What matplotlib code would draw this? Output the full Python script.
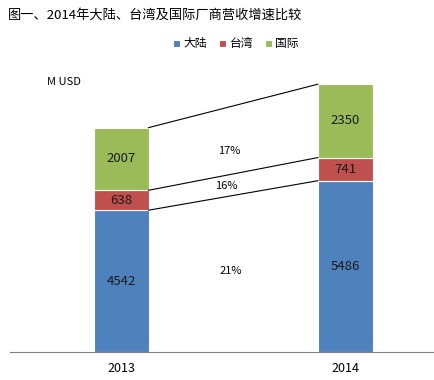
import matplotlib
matplotlib.use('Agg')
import matplotlib.pyplot as plt

plt.rcParams['font.family'] = ['Noto Sans CJK SC', 'DejaVu Sans']

years = ['2013', '2014']
series = ['大陆', '台湾', '国际']
mainland = [4542, 5486]
taiwan = [638, 741]
intl = [2007, 2350]
growth = ['21%', '16%', '17%']
colors = ['#4F81BD', '#C0504D', '#9BBB59']


def main():
    fig = plt.figure(figsize=(4.35, 3.80), dpi=100)
    ax = fig.add_axes([10 / 435, 28 / 380, 1 - 10 / 435, (352 - 71) / 380])
    x = [0, 1]
    w = 0.245
    bottoms = [0, 0]
    tops = []
    for vals, name, c in zip([mainland, taiwan, intl], series, colors):
        ax.bar(x, vals, w, bottom=bottoms, color=c, edgecolor='white', linewidth=0.8, label=name)
        for xi, v, b in zip(x, vals, bottoms):
            ax.text(xi, b + v / 2, str(v), ha='center', va='center', fontsize=9.5, color='#1a1a1a')
        bottoms = [b + v for b, v in zip(bottoms, vals)]
        tops.append(list(bottoms))

    # connector lines between stacked segment tops
    for t in tops:
        ax.plot([x[0] + w / 2, x[1] - w / 2], t, color='black', linewidth=0.8)

    # growth labels between connectors
    ax.text(0.49, 2600, growth[0], ha='center', va='center', fontsize=8)
    ax.text(0.47, 5320, growth[1], ha='center', va='center', fontsize=8)
    ax.text(0.48, 6440, growth[2], ha='center', va='center', fontsize=8)

    ax.set_xlim(-0.496, 1.4)
    ax.set_ylim(0, 9000)
    ax.set_xticks(x)
    ax.set_xticklabels(years, fontsize=9)
    ax.tick_params(axis='x', length=0, pad=7)
    ax.set_yticks([])
    for s in ['top', 'right', 'left']:
        ax.spines[s].set_visible(False)
    ax.spines['bottom'].set_color('#808080')

    fig.text(8 / 435, 1 - 15 / 380, '图一、2014年大陆、台湾及国际厂商营收增速比较',
             fontsize=9.5, ha='left', va='center')
    fig.text(47 / 435, 1 - 82 / 380, 'M USD', fontsize=8, ha='left', va='center')
    fig.legend(loc='center', bbox_to_anchor=(236 / 435, 1 - 44 / 380), ncol=3, frameon=False,
               fontsize=8.5, handlelength=0.6, handleheight=0.6, handletextpad=0.3,
               columnspacing=1.0)
    fig.savefig('out.png', dpi=100)


if __name__ == '__main__':
    main()
